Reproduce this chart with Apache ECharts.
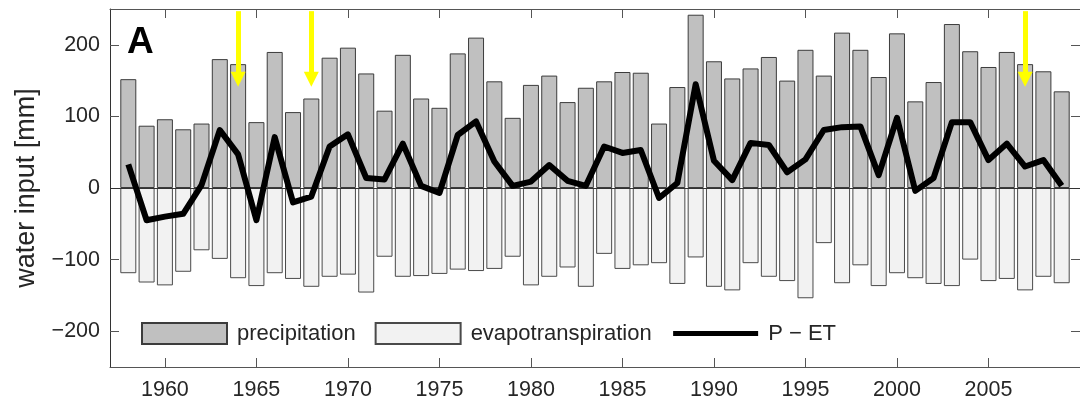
<!DOCTYPE html>
<html>
<head>
<meta charset="utf-8">
<title>Water input</title>
<script src="https://cdn.jsdelivr.net/npm/echarts@6/dist/echarts.min.js"></script>
<style>
  html, body { margin: 0; padding: 0; background: #ffffff; }
  #chart { width: 1080px; height: 405px; }
</style>
</head>
<body>
<div id="chart"></div>
<script>
// Annual water balance, 1958-2009 (mm)
const years = [
  1958, 1959, 1960, 1961, 1962, 1963, 1964, 1965, 1966, 1967,
  1968, 1969, 1970, 1971, 1972, 1973, 1974, 1975, 1976, 1977,
  1978, 1979, 1980, 1981, 1982, 1983, 1984, 1985, 1986, 1987,
  1988, 1989, 1990, 1991, 1992, 1993, 1994, 1995, 1996, 1997,
  1998, 1999, 2000, 2001, 2002, 2003, 2004, 2005, 2006, 2007,
  2008, 2009
];

const precipitation = [
  152, 87, 96, 82, 90, 180, 173, 92, 190, 106,
  125, 182, 196, 160, 108, 186, 125, 112, 188, 210,
  149, 98, 144, 157, 120, 140, 149, 162, 161, 90,
  141, 242, 177, 153, 167, 183, 150, 193, 157, 217,
  193, 155, 216, 121, 148, 229, 191, 169, 190, 173,
  163, 135
];

const evapotranspiration = [
  -119, -132, -136, -117, -87, -99, -126, -137, -119, -127,
  -138, -124, -121, -146, -96, -124, -123, -120, -114, -116,
  -113, -96, -136, -124, -111, -138, -92, -113, -108, -105,
  -134, -97, -138, -143, -105, -124, -130, -154, -77, -133,
  -108, -137, -119, -126, -134, -137, -100, -130, -127, -143,
  -124, -133
];

const pMinusEt = [
  33, -45, -40, -36, 4, 81, 47, -45, 71, -20,
  -12, 58, 75, 14, 12, 62, 3, -7, 74, 93,
  37, 3, 9, 32, 10, 3, 58, 49, 53, -14,
  7, 145, 38, 11, 63, 60, 22, 40, 81, 85,
  86, 18, 98, -4, 14, 92, 92, 39, 62, 30,
  39, 3
];

// Axis ticks
const xTickYears = [1960, 1965, 1970, 1975, 1980, 1985, 1990, 1995, 2000, 2005];
const yTickValues = [-200, -100, 0, 100, 200];

// Years highlighted with arrows
const arrowYears = [1964, 1968, 2007];

const FONT = '"Liberation Sans", Arial, sans-serif';
const TEXT = '#262626';
const AXIS = '#555555';
const withMinus = v => String(v).replace('-', '\u2212');

const chart = echarts.init(document.getElementById('chart'), null, { renderer: 'canvas' });

const arrowLines = arrowYears.map(y => [
  { coord: [y, 247] },
  { coord: [y, 152] }
]);

chart.setOption({
  animation: false,
  backgroundColor: '#ffffff',
  grid: { left: 110, right: -4, top: 9, bottom: 38 },
  graphic: [{
    type: 'text',
    x: 127,
    y: 43,
    style: {
      text: 'A',
      font: 'bold 37px ' + FONT,
      fill: '#000000',
      textVerticalAlign: 'middle'
    },
    z: 10
  }],
  legend: {
    left: 141,
    top: 322,
    padding: 0,
    itemWidth: 85,
    itemHeight: 21,
    itemGap: 19,
    textStyle: { fontSize: 22, color: TEXT, fontFamily: FONT, padding: [0, 0, 0, 5] },
    data: [
      { name: 'precipitation', icon: 'rect' },
      { name: 'evapotranspiration', icon: 'rect' },
      {
        name: 'P \u2212 ET',
        itemStyle: { opacity: 0 },
        lineStyle: { color: '#000000', width: 5, opacity: 1 }
      }
    ],
    selectedMode: false
  },
  xAxis: [
    {
      type: 'value', min: 1957, max: 2010, position: 'bottom',
      axisLine: { show: true, onZero: false, lineStyle: { color: AXIS, width: 1 } },
      axisTick: { show: true, inside: true, length: 9, customValues: xTickYears, lineStyle: { color: AXIS } },
      axisLabel: {
        customValues: xTickYears, margin: 12, fontSize: 21.5, color: TEXT, fontFamily: FONT,
        formatter: v => String(v)
      },
      splitLine: { show: false }
    },
    {
      type: 'value', min: 1957, max: 2010, position: 'top',
      axisLine: { show: true, onZero: false, lineStyle: { color: AXIS, width: 1 } },
      axisTick: { show: true, inside: true, length: 9, customValues: xTickYears, lineStyle: { color: AXIS } },
      axisLabel: { show: false },
      splitLine: { show: false }
    }
  ],
  yAxis: [
    {
      type: 'value', min: -250, max: 250, position: 'left',
      name: 'water input [mm]',
      nameLocation: 'middle',
      nameGap: 70,
      nameTextStyle: { fontSize: 27, color: TEXT, fontFamily: FONT },
      axisLine: { show: true, onZero: false, lineStyle: { color: '#333333', width: 1 } },
      axisTick: { show: true, inside: true, length: 9, customValues: yTickValues, lineStyle: { color: AXIS } },
      axisLabel: { customValues: yTickValues, margin: 10, fontSize: 21.5, color: TEXT, fontFamily: FONT, formatter: withMinus },
      splitLine: { show: false }
    },
    {
      type: 'value', min: -250, max: 250, position: 'right',
      axisLine: { show: true, onZero: false, lineStyle: { color: AXIS, width: 1 } },
      axisTick: { show: true, inside: true, length: 9, customValues: yTickValues, lineStyle: { color: AXIS } },
      axisLabel: { show: false },
      splitLine: { show: false }
    }
  ],
  series: [
    {
      name: 'precipitation',
      type: 'bar',
      data: years.map((y, i) => [y, precipitation[i]]),
      barWidth: 16,
      barGap: '-100%',
      itemStyle: { color: '#c0c0c0', borderColor: '#3c3c3c', borderWidth: 1 },
      emphasis: { disabled: true },
      silent: true
    },
    {
      name: 'evapotranspiration',
      type: 'bar',
      data: years.map((y, i) => [y, evapotranspiration[i]]),
      barWidth: 16,
      barGap: '-100%',
      itemStyle: { color: '#f2f2f2', borderColor: '#4a4a4a', borderWidth: 1 },
      emphasis: { disabled: true },
      silent: true,
      markLine: {
        silent: true,
        symbol: 'none',
        label: { show: false },
        lineStyle: { color: '#333333', width: 1, type: 'solid' },
        data: [{ yAxis: 0 }]
      }
    },
    {
      name: 'P \u2212 ET',
      type: 'line',
      data: years.map((y, i) => [y, pMinusEt[i]]),
      symbol: 'none',
      lineStyle: { color: '#000000', width: 6, join: 'round' },
      itemStyle: { color: '#000000' },
      z: 5,
      emphasis: { disabled: true },
      silent: true,
      markLine: {
        silent: true,
        symbol: ['none', 'triangle'],
        symbolSize: [15, 15],
        label: { show: false },
        lineStyle: { color: '#ffff00', width: 5, type: 'solid' },
        emphasis: { disabled: true },
        data: arrowLines
      }
    }
  ]
});
</script>
</body>
</html>
